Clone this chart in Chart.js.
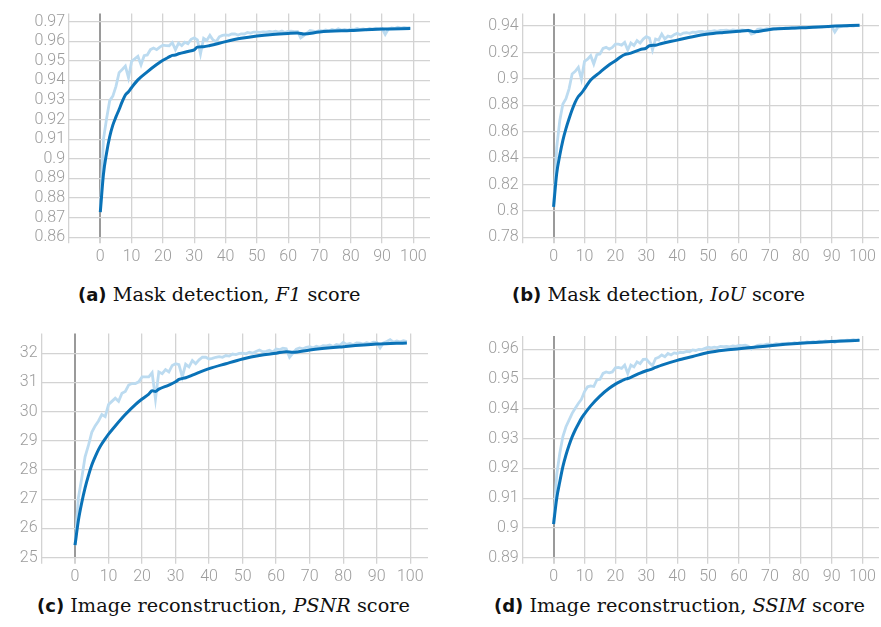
<!DOCTYPE html>
<html>
<head>
<meta charset="utf-8">
<script src="https://cdn.jsdelivr.net/npm/chart.js@4.4.1/dist/chart.umd.min.js"></script>
<style>
  body { margin: 0; background: #fff; width: 881px; height: 627px; position: relative; overflow: hidden; }
  canvas { position: absolute; }
  .cap { position: absolute; font-family: "DejaVu Serif", serif; font-size: 19.3px; color: #111; white-space: nowrap; }
  .cap b { font-family: "DejaVu Sans", sans-serif; font-size: 18px; }
</style>
</head>
<body>
<canvas id="chartA" width="440" height="265" style="left:0;top:0"></canvas>
<canvas id="chartB" width="441" height="265" style="left:440px;top:0"></canvas>
<canvas id="chartC" width="440" height="265" style="left:0;top:320px"></canvas>
<canvas id="chartD" width="441" height="265" style="left:440px;top:320px"></canvas>
<div class="cap" style="left:78px;top:283px"><b>(a)</b> Mask detection, <i>F1</i> score</div>
<div class="cap" style="left:512px;top:283px"><b>(b)</b> Mask detection, <i>IoU</i> score</div>
<div class="cap" style="left:37px;top:594px"><b>(c)</b> Image reconstruction, <i>PSNR</i> score</div>
<div class="cap" style="left:494px;top:594px"><b>(d)</b> Image reconstruction, <i>SSIM</i> score</div>
<script>
const epochs = [0,1,2,3,4,5,6,7,8,9,10,11,12,13,14,15,16,17,18,19,20,21,22,23,24,25,26,27,28,29,
  30,31,32,33,34,35,36,37,38,39,40,41,42,43,44,45,46,47,48,49,50,51,52,53,54,55,56,57,58,59,
  60,61,62,63,64,65,66,67,68,69,70,71,72,73,74,75,76,77,78,79,80,81,82,83,84,85,86,87,88,89,
  90,91,92,93,94,95,96,97,98,99];

const smoothEpochs = [0,1,2,3,4,5,6,7,8,9,10,12,15,18,20,22,23,24,25,28,30,31,33,35,40,45,50,55,60,63,65,70,80,90,99];

// (a) F1
const f1Raw = [0.8729,0.910,0.9205,0.9297,0.932,0.937,0.944,0.9456,0.9473,0.9414,
  0.9498,0.951,0.9523,0.948,0.9526,0.953,0.9557,0.9565,0.9557,0.957,
  0.958,0.9578,0.9577,0.9593,0.9557,0.959,0.9578,0.9595,0.9587,0.961,
  0.9617,0.9607,0.9535,0.9615,0.9604,0.963,0.9606,0.9597,0.9623,0.963,
  0.9632,0.963,0.9637,0.9637,0.9632,0.9638,0.9637,0.9645,0.9642,0.9647,
  0.9647,0.9645,0.9648,0.9646,0.965,0.9648,0.9651,0.9647,0.9652,0.9645,
  0.965,0.9652,0.9649,0.965,0.9617,0.9628,0.9642,0.9655,0.9652,0.9648,
  0.9655,0.9653,0.9657,0.9652,0.966,0.9655,0.9663,0.9657,0.966,0.9657,
  0.9662,0.966,0.9665,0.966,0.9663,0.9658,0.9665,0.9662,0.9667,0.9663,
  0.9665,0.9635,0.9662,0.9668,0.9665,0.9672,0.9667,0.967,0.9668,0.967];
const f1Smooth = [0.8729,0.8921,0.903,0.9113,0.9172,0.9214,0.9252,0.9292,0.9326,0.9342,0.9364,0.9403,
  0.9444,0.9481,0.9503,0.952,0.9528,0.953,0.9536,0.9548,0.9556,0.957,0.9572,0.9578,0.9598,0.9615,
  0.9627,0.9635,0.964,0.9642,0.9637,0.9647,0.9655,0.9662,0.9665];

// (b) IoU
const iouRaw = [0.8031,0.848,0.8686,0.881,0.885,0.8925,0.9038,0.9058,0.9088,0.900,
  0.9133,0.915,0.9176,0.9113,0.9184,0.9189,0.9231,0.9239,0.9226,0.9239,
  0.9264,0.9264,0.9256,0.9277,0.9219,0.9272,0.9254,0.929,0.9272,0.9302,
  0.932,0.931,0.922,0.9302,0.9295,0.934,0.9302,0.9325,0.9318,0.9335,
  0.9345,0.9335,0.9348,0.935,0.9345,0.9355,0.9352,0.9358,0.936,0.9355,
  0.9362,0.936,0.9365,0.936,0.9368,0.9367,0.937,0.9365,0.9372,0.9368,
  0.9367,0.9372,0.9368,0.937,0.934,0.9348,0.9375,0.9378,0.9373,0.938,
  0.9377,0.9383,0.938,0.9385,0.9382,0.9386,0.9384,0.939,0.9386,0.9388,
  0.9392,0.9389,0.9394,0.939,0.9395,0.9393,0.9397,0.9394,0.9398,0.9395,
  0.9399,0.9355,0.9392,0.9397,0.9402,0.9398,0.9403,0.94,0.9405,0.9405];
const iouSmooth = [0.8031,0.8283,0.8421,0.8535,0.8623,0.8698,0.8766,0.8824,0.8867,0.8892,0.8925,0.8992,
  0.905,0.9108,0.9138,0.9172,0.9184,0.919,0.9196,0.9222,0.9234,0.9252,0.9256,0.9269,0.9294,0.932,
  0.934,0.9352,0.9362,0.9367,0.9357,0.9375,0.9387,0.94,0.9407];

// (c) PSNR
const psnrRaw = [25.43,27.05,27.72,28.45,28.84,29.29,29.51,29.68,29.90,29.83,
  30.24,30.35,30.46,30.35,30.63,30.69,30.91,30.96,30.96,31.02,
  31.19,31.19,31.19,31.33,30.43,31.36,31.30,31.44,31.36,31.58,
  31.64,31.61,31.19,31.62,31.53,31.75,31.64,31.77,31.86,31.86,
  31.80,31.82,31.86,31.88,31.86,31.92,31.90,31.97,31.95,31.99,
  32.00,31.98,32.03,32.00,32.06,32.11,32.05,32.06,32.10,32.04,
  32.14,32.12,32.17,32.15,31.86,32.00,32.14,32.18,32.15,32.20,
  32.22,32.18,32.24,32.20,32.26,32.25,32.28,32.23,32.30,32.27,
  32.37,32.30,32.33,32.29,32.35,32.34,32.31,32.36,32.33,32.38,
  32.37,32.18,32.35,32.40,32.46,32.38,32.42,32.39,32.43,32.40];
const psnrSmooth = [25.43,26.27,26.88,27.39,27.81,28.17,28.45,28.70,28.90,29.07,29.23,29.51,
  29.90,30.24,30.43,30.60,30.71,30.69,30.77,30.91,31.02,31.10,31.16,31.25,31.47,31.64,
  31.80,31.92,32.00,32.05,32.03,32.11,32.22,32.31,32.35];

// (d) SSIM
const ssimRaw = [0.9013,0.9178,0.9251,0.9307,0.934,0.9362,0.9385,0.9402,0.9418,0.9432,
  0.9458,0.9474,0.9477,0.9475,0.9497,0.9499,0.9519,0.9524,0.9521,0.9524,
  0.9538,0.9539,0.9536,0.9547,0.9519,0.9547,0.9541,0.9558,0.9552,0.9566,
  0.9567,0.9555,0.9545,0.9569,0.9573,0.9581,0.9575,0.9586,0.9581,0.9588,
  0.9586,0.959,0.9589,0.9593,0.9592,0.9598,0.9596,0.96,0.9599,0.9603,
  0.9607,0.9605,0.9607,0.9606,0.961,0.9609,0.961,0.9608,0.9611,0.961,
  0.9613,0.9612,0.9614,0.961,0.9601,0.9608,0.9613,0.9615,0.9614,0.9617,
  0.9617,0.9616,0.9619,0.9617,0.962,0.9619,0.9621,0.9619,0.9622,0.962,
  0.9624,0.9622,0.9625,0.9623,0.9626,0.9624,0.9627,0.9625,0.9628,0.9626,
  0.9628,0.9623,0.9628,0.963,0.9629,0.9631,0.963,0.9632,0.9631,0.9634];
const ssimSmooth = [0.9013,0.9099,0.9155,0.9206,0.9245,0.9278,0.9306,0.9329,0.9349,0.9368,0.9383,0.941,
  0.9443,0.9469,0.9483,0.9494,0.9499,0.9502,0.9506,0.952,0.9528,0.9531,0.9539,0.9547,0.9563,0.9576,
  0.9589,0.9597,0.9602,0.9605,0.9607,0.9612,0.962,0.9626,0.963];

const darkBlue = "#0a72b7";
const lightBlue = "#bcdbf0";
const gridGray = "#d3d3d3";
const tickFont = { family: "Roboto", size: 16, weight: 300 };

function toPoints(xs, ys) {
  return ys.map((y, i) => ({ x: xs[i], y: y }));
}

function onStep(v, step) {
  const r = v / step;
  return Math.abs(r - Math.round(r)) < 1e-6;
}

function makeChart(id, raw, smooth, yMin, yMax, yStep, box) {
  const ctx = document.getElementById(id);
  const h = ctx.height;
  new Chart(ctx, {
    type: "line",
    data: {
      datasets: [
        {
          data: toPoints(smoothEpochs, smooth),
          borderColor: darkBlue,
          borderWidth: 3,
          pointRadius: 0,
          cubicInterpolationMode: "monotone",
        },
        {
          data: toPoints(epochs, raw),
          borderColor: lightBlue,
          borderWidth: 2.8,
          pointRadius: 0,
          tension: 0,
        },
      ],
    },
    options: {
      responsive: false,
      animation: false,
      devicePixelRatio: 1,
      layout: { padding: { top: box.top, right: box.right, left: 0, bottom: 0 } },
      plugins: { legend: { display: false }, tooltip: { enabled: false } },
      scales: {
        x: {
          type: "linear",
          min: -10,
          max: 105.3,
          afterBuildTicks: (axis) => {
            axis.ticks = axis.ticks.filter((t) => onStep(t.value, 10));
          },
          afterFit: (axis) => {
            axis.height = h - box.bottom;
          },
          ticks: {
            stepSize: 10,
            includeBounds: false,
            autoSkip: false,
            maxRotation: 0,
            padding: 4,
            color: "#9c9c9c",
            font: tickFont,
            callback: (v) => (v === -10 ? "" : v),
          },
          grid: {
            color: (c) => (c.tick && c.tick.value === 0 ? "#9a9a9a" : gridGray),
            lineWidth: (c) => (c.tick && c.tick.value === 0 ? 2 : 1.3),
            tickColor: gridGray,
            tickLength: 6,
          },
          border: { display: false },
        },
        y: {
          min: yMin,
          max: yMax,
          afterBuildTicks: (axis) => {
            axis.ticks = axis.ticks.filter((t) => onStep(t.value, yStep));
          },
          afterFit: (axis) => {
            axis.width = box.left;
          },
          ticks: {
            stepSize: yStep,
            includeBounds: false,
            autoSkip: false,
            padding: 4,
            color: "#9c9c9c",
            font: tickFont,
            callback: (v) => String(parseFloat(v.toFixed(2))),
          },
          grid: { color: gridGray, lineWidth: 1.3, drawTicks: false },
          border: { display: false },
        },
      },
    },
  });
}

makeChart("chartA", f1Raw, f1Smooth, 0.86, 0.9741, 0.01, { left: 69, right: 10, top: 10, bottom: 237.3 });
makeChart("chartB", iouRaw, iouSmooth, 0.78, 0.9495, 0.02, { left: 82.7, right: 2, top: 12.7, bottom: 237.3 });
makeChart("chartC", psnrRaw, psnrSmooth, 25, 32.67, 1, { left: 41.5, right: 12, top: 9.3, bottom: 237.7 });
makeChart("chartD", ssimRaw, ssimSmooth, 0.89, 0.96447, 0.01, { left: 82.7, right: 2, top: 16, bottom: 237.7 });
</script>
</body>
</html>
